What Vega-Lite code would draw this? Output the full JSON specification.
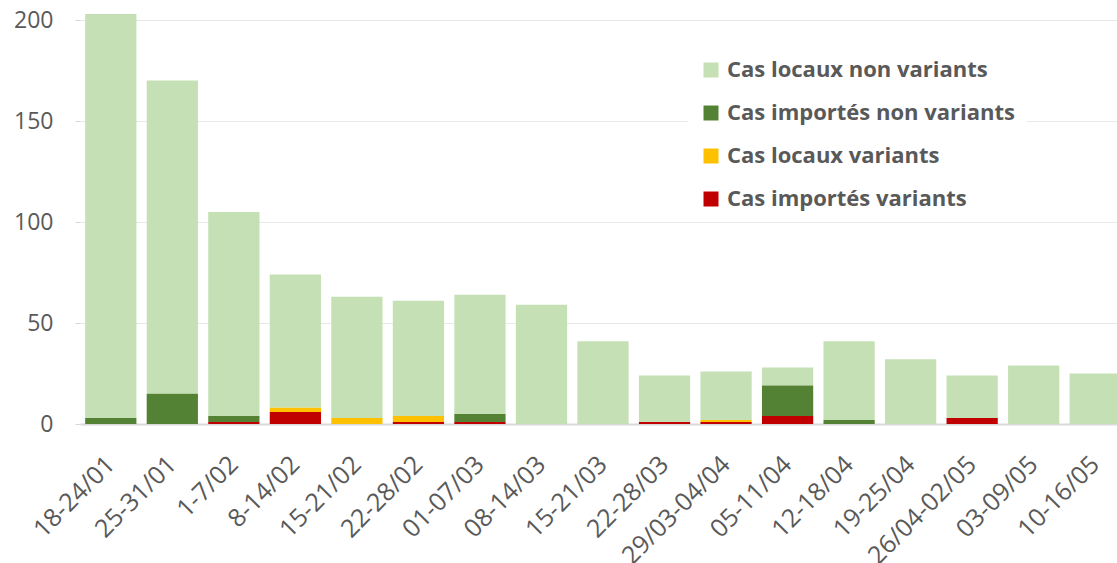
{
  "$schema": "https://vega.github.io/schema/vega-lite/v6.json",
  "width": 1046,
  "height": 404,
  "padding": {"left": 80, "top": 20, "right": 0, "bottom": 139},
  "autosize": {"type": "none"},
  "background": "white",
  "config": {
    "view": {"stroke": null},
    "font": "Open Sans",
    "axis": {"labelFont": "Open Sans", "labelColor": "#595959"}
  },
  "data": {
    "values": [
      {"semaine": "18-24/01", "type": "Cas locaux non variants", "cas": 200},
      {"semaine": "18-24/01", "type": "Cas importés non variants", "cas": 3},
      {"semaine": "25-31/01", "type": "Cas locaux non variants", "cas": 155},
      {"semaine": "25-31/01", "type": "Cas importés non variants", "cas": 15},
      {"semaine": "1-7/02", "type": "Cas locaux non variants", "cas": 101},
      {"semaine": "1-7/02", "type": "Cas importés non variants", "cas": 3},
      {"semaine": "1-7/02", "type": "Cas importés variants", "cas": 1},
      {"semaine": "8-14/02", "type": "Cas locaux non variants", "cas": 66},
      {"semaine": "8-14/02", "type": "Cas locaux variants", "cas": 2},
      {"semaine": "8-14/02", "type": "Cas importés variants", "cas": 6},
      {"semaine": "15-21/02", "type": "Cas locaux non variants", "cas": 60},
      {"semaine": "15-21/02", "type": "Cas locaux variants", "cas": 3},
      {"semaine": "22-28/02", "type": "Cas locaux non variants", "cas": 57},
      {"semaine": "22-28/02", "type": "Cas locaux variants", "cas": 3},
      {"semaine": "22-28/02", "type": "Cas importés variants", "cas": 1},
      {"semaine": "01-07/03", "type": "Cas locaux non variants", "cas": 59},
      {"semaine": "01-07/03", "type": "Cas importés non variants", "cas": 4},
      {"semaine": "01-07/03", "type": "Cas importés variants", "cas": 1},
      {"semaine": "08-14/03", "type": "Cas locaux non variants", "cas": 59},
      {"semaine": "15-21/03", "type": "Cas locaux non variants", "cas": 41},
      {"semaine": "22-28/03", "type": "Cas locaux non variants", "cas": 23},
      {"semaine": "22-28/03", "type": "Cas importés variants", "cas": 1},
      {"semaine": "29/03-04/04", "type": "Cas locaux non variants", "cas": 24},
      {"semaine": "29/03-04/04", "type": "Cas locaux variants", "cas": 1},
      {"semaine": "29/03-04/04", "type": "Cas importés variants", "cas": 1},
      {"semaine": "05-11/04", "type": "Cas locaux non variants", "cas": 9},
      {"semaine": "05-11/04", "type": "Cas importés non variants", "cas": 15},
      {"semaine": "05-11/04", "type": "Cas importés variants", "cas": 4},
      {"semaine": "12-18/04", "type": "Cas locaux non variants", "cas": 39},
      {"semaine": "12-18/04", "type": "Cas importés non variants", "cas": 2},
      {"semaine": "19-25/04", "type": "Cas locaux non variants", "cas": 32},
      {"semaine": "26/04-02/05", "type": "Cas locaux non variants", "cas": 21},
      {"semaine": "26/04-02/05", "type": "Cas importés variants", "cas": 3},
      {"semaine": "03-09/05", "type": "Cas locaux non variants", "cas": 29},
      {"semaine": "10-16/05", "type": "Cas locaux non variants", "cas": 25}
    ]
  },
  "transform": [
    {"calculate": "indexof(['Cas importés variants','Cas locaux variants','Cas importés non variants','Cas locaux non variants'], datum.type)", "as": "rang"}
  ],
  "mark": {"type": "bar"},
  "encoding": {
    "x": {
      "field": "semaine",
      "type": "nominal",
      "sort": null,
      "scale": {"paddingInner": 0.167, "paddingOuter": 0.084},
      "axis": {
        "title": null,
        "labelAngle": -45,
        "labelAlign": "right",
        "labelBaseline": "middle",
        "labelFontSize": 25,
        "labelPadding": 36,
        "ticks": false,
        "domainColor": "#D9D9D9",
        "domainWidth": 2,
        "grid": false
      }
    },
    "y": {
      "field": "cas",
      "type": "quantitative",
      "stack": "zero",
      "scale": {"domain": [0, 200], "nice": false},
      "axis": {
        "title": null,
        "values": [0, 50, 100, 150, 200],
        "labelFontSize": 23,
        "labelPadding": 22,
        "tickSize": 5,
        "tickColor": "#D9D9D9",
        "domain": false,
        "gridColor": "#E8E8E8",
        "gridWidth": 1
      }
    },
    "order": {"field": "rang", "type": "quantitative", "sort": "ascending"},
    "color": {
      "field": "type",
      "type": "nominal",
      "scale": {
        "domain": ["Cas locaux non variants", "Cas importés non variants", "Cas locaux variants", "Cas importés variants"],
        "range": ["#C5E0B4", "#548235", "#FFC000", "#C00000"]
      },
      "legend": {
        "title": null,
        "orient": "none",
        "legendX": 608,
        "legendY": 27,
        "fillColor": "white",
        "padding": 12,
        "symbolType": "square",
        "symbolSize": 225,
        "symbolStrokeWidth": 0,
        "labelFontSize": 22,
        "labelFontWeight": "bold",
        "labelColor": "#595959",
        "labelFont": "Open Sans",
        "labelOffset": 5,
        "rowPadding": 21,
        "labelLimit": 400
      }
    }
  }
}
